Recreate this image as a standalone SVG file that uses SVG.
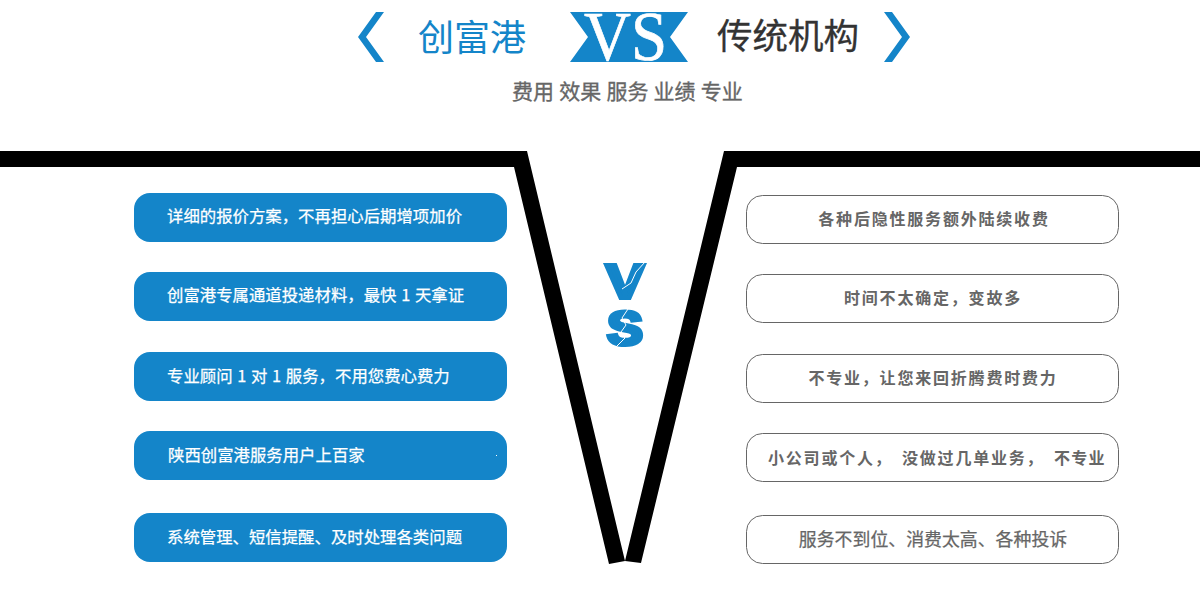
<svg xmlns="http://www.w3.org/2000/svg" width="1200" height="598" viewBox="0 0 1200 598">
<style>
text{font-family:"Noto Sans CJK SC","Noto Sans",sans-serif}
.pill{fill:#1485c9}
.out{fill:#fff;stroke:#666;stroke-width:1}
.lt{fill:#fff;stroke:#fff;stroke-width:.25px;font-size:16.4px;word-spacing:1px}
.rt{fill:#666;font-size:16px;font-weight:700;text-anchor:middle;letter-spacing:1.8px}
.chev{fill:#1485c9}
.badge{fill:#1485c9;stroke:#1485c9;stroke-width:4;font-size:48px;font-weight:700}
</style>
<rect width="1200" height="598" fill="#fff"/>
<g id="header">
<polygon class="chev" points="376,12 384,12 366,37 384,62 376,62 358,37"/>
<polygon class="chev" points="884,12 892,12 910,37 892,62 884,62 902,37"/>
<text x="418" y="51" font-size="36" fill="#1485c9">创富港</text>
<polygon points="570,12 688,12 670,37 688,62 570,62 588,37" fill="#1485c9"/>
<text x="584" y="60" font-size="70" fill="#fff" stroke="#fff" stroke-width=".7" style="font-family:'Liberation Serif',serif" textLength="83" lengthAdjust="spacingAndGlyphs">VS</text>
<text x="717" y="49" font-size="35.5" fill="#333" stroke="#333" stroke-width=".3">传统机构</text>
<text x="512" y="99" font-size="21" fill="#666" stroke="#666" stroke-width=".35" word-spacing=".5">费用 效果 服务 业绩 专业</text>
</g>
<g id="divider">
<polygon points="0,151 527,151 625,561 609,564 514,167 0,167" fill="#000"/>
<polygon points="1200,151 724,151 625,561 641,563 737,167 1200,167" fill="#000"/>
</g>
<g id="vs-badge">
<text class="badge" x="606" y="298" style="font-family:'Liberation Sans',sans-serif" textLength="38" lengthAdjust="spacingAndGlyphs">V</text>
<text class="badge" x="607" y="345" style="font-family:'Liberation Sans',sans-serif" textLength="36" lengthAdjust="spacingAndGlyphs">S</text>
<path d="M645,262 L636,272 L631,283 L622,289 M628,309 L622,318 L626,325 L621,332 L625,338 L616,347" fill="none" stroke="#fff" stroke-width="1"/>
</g>
<g id="left-1"><rect class="pill" x="134" y="193" width="373" height="49" rx="16"/><text class="lt" x="167" y="222">详细的报价方案，不再担心后期增项加价</text></g>
<g id="left-2"><rect class="pill" x="134" y="272" width="373" height="49" rx="16"/><text class="lt" x="167" y="301">创富港专属通道投递材料，最快 1 天拿证</text></g>
<g id="left-3"><rect class="pill" x="134" y="352" width="373" height="49" rx="16"/><text class="lt" x="167" y="382">专业顾问 1 对 1 服务，不用您费心费力</text></g>
<g id="left-4"><rect class="pill" x="134" y="431" width="373" height="49" rx="16"/><text class="lt" x="168" y="461">陕西创富港服务用户上百家</text><rect x="496" y="455" width="1" height="1" fill="#fff"/></g>
<g id="left-5"><rect class="pill" x="134" y="513" width="373" height="49" rx="16"/><text class="lt" x="167" y="543">系统管理、短信提醒、及时处理各类问题</text></g>
<g id="right-1"><rect class="out" x="746.5" y="195.5" width="372" height="48" rx="16"/><text class="rt" x="934" y="225">各种后隐性服务额外陆续收费</text></g>
<g id="right-2"><rect class="out" x="746.5" y="274.5" width="372" height="48" rx="16"/><text class="rt" x="933" y="304">时间不太确定，变故多</text></g>
<g id="right-3"><rect class="out" x="746.5" y="354.5" width="372" height="48" rx="16"/><text class="rt" x="933" y="384">不专业，让您来回折腾费时费力</text></g>
<g id="right-4"><rect class="out" x="746.5" y="433.5" width="372" height="48" rx="16"/><text class="rt" y="464" style="text-anchor:start"><tspan x="768">小公司或个人，</tspan><tspan x="902">没做过几单业务，</tspan><tspan x="1054" style="letter-spacing:1.3px">不专业</tspan></text></g>
<g id="right-5"><rect class="out" x="746.5" y="515.5" width="372" height="48" rx="16"/><text x="933" y="546" fill="#666" font-size="17.9" text-anchor="middle" stroke="#666" stroke-width=".25">服务不到位、消费太高、各种投诉</text></g>
</svg>
